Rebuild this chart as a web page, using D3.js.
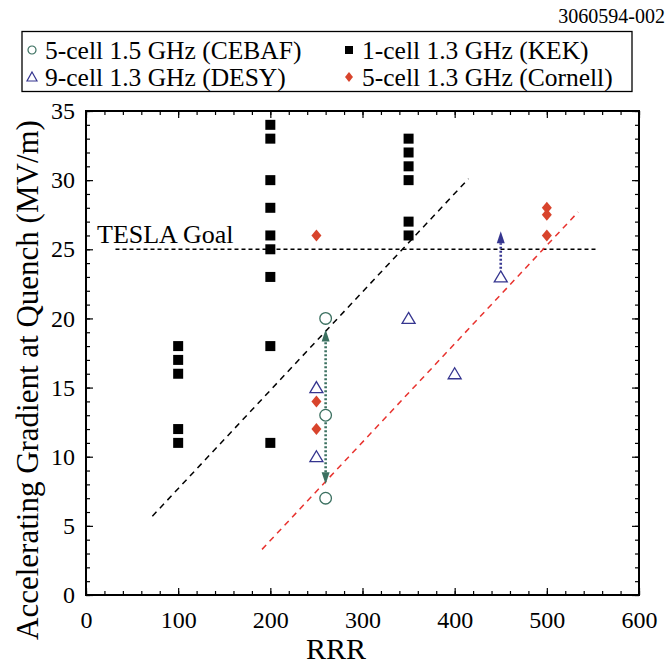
<!DOCTYPE html>
<html>
<head>
<meta charset="utf-8">
<script src="https://cdn.jsdelivr.net/npm/d3@7"></script>
<style>
  body { margin: 0; background: #fff; }
  svg text { font-family: 'Liberation Serif', 'Times New Roman', serif; }
</style>
</head>
<body>
<script>
// data (RRR, MV/m)
var cebaf = [[260, 20], [260, 13], [260, 7]];
var kek = [[100, 18], [100, 17], [100, 16], [100, 12], [100, 11],
           [200, 34], [200, 33], [200, 30], [200, 28], [200, 26], [200, 25], [200, 23], [200, 18], [200, 11],
           [350, 33], [350, 32], [350, 31], [350, 30], [350, 27], [350, 26]];
var desy = [[250, 15], [250, 10], [350, 20], [400, 16], [450, 23]];
var cornell = [[250, 26], [250, 14], [250, 12], [500, 28], [500, 27.5], [500, 26]];

var fitKek = [[72, 5.7], [415, 30.1]];
var fitCornell = [[191, 3.3], [534, 27.7]];
var teslaGoal = [[32, 25], [554, 25]];

// arrows: x, from, to
var arrows = [
  {x: 260, from: 13.5, to: 19.2, color: "#3b7060"},
  {x: 260, from: 12.5, to: 8.0, color: "#3b7060"},
  {x: 450, from: 23.6, to: 26.3, color: "#35358f"}
];

var xTicks = [0, 100, 200, 300, 400, 500, 600];
var yTicks = [0, 5, 10, 15, 20, 25, 30, 35];

var serif = "'Liberation Serif', 'Times New Roman', serif";

var W = 669, H = 666;
var svg = d3.select("body").append("svg")
  .attr("width", W)
  .attr("height", H);

var x = d3.scaleLinear().domain([0, 600]).range([86, 639]);
var y = d3.scaleLinear().domain([0, 35]).range([595, 111]);

var minorX = d3.range(0, 601, 20);
var minorY = d3.range(0, 36, 1);

function styleAxis(g) {
  g.attr("font-family", serif);
  g.select(".domain").remove();
  g.selectAll("line").attr("stroke", "#000").attr("stroke-width", 1.2);
  g.selectAll("text").attr("font-size", 24).attr("fill", "#000").style("font-family", serif);
}

// minor ticks on all four sides
svg.append("g").attr("transform", "translate(0,595)")
  .call(d3.axisBottom(x).tickValues(minorX).tickSize(-4).tickFormat("")).call(styleAxis);
svg.append("g").attr("transform", "translate(0,111)")
  .call(d3.axisTop(x).tickValues(minorX).tickSize(-4).tickFormat("")).call(styleAxis);
svg.append("g").attr("transform", "translate(86,0)")
  .call(d3.axisLeft(y).tickValues(minorY).tickSize(-4).tickFormat("")).call(styleAxis);
svg.append("g").attr("transform", "translate(639,0)")
  .call(d3.axisRight(y).tickValues(minorY).tickSize(-4).tickFormat("")).call(styleAxis);

// major ticks
svg.append("g").attr("transform", "translate(0,595)")
  .call(d3.axisBottom(x).tickValues(xTicks).tickSize(-7).tickPadding(16)).call(styleAxis);
svg.append("g").attr("transform", "translate(0,111)")
  .call(d3.axisTop(x).tickValues(xTicks).tickSize(-7).tickFormat("")).call(styleAxis);
svg.append("g").attr("transform", "translate(86,0)")
  .call(d3.axisLeft(y).tickValues(yTicks).tickSize(-7).tickPadding(11)).call(styleAxis);
svg.append("g").attr("transform", "translate(639,0)")
  .call(d3.axisRight(y).tickValues(yTicks).tickSize(-7).tickFormat("")).call(styleAxis);

// frame
svg.append("rect")
  .attr("x", x(0)).attr("y", y(35))
  .attr("width", x(600) - x(0)).attr("height", y(0) - y(35))
  .attr("fill", "none").attr("stroke", "#000").attr("stroke-width", 2);

var line = d3.line().x(function (d) { return x(d[0]); }).y(function (d) { return y(d[1]); });

svg.append("path").datum(teslaGoal).attr("d", line)
  .attr("stroke", "#000").attr("stroke-width", 1.4).attr("stroke-dasharray", "4,3").attr("fill", "none");
svg.append("path").datum(fitKek).attr("d", line)
  .attr("stroke", "#000").attr("stroke-width", 1.5).attr("stroke-dasharray", "6,5").attr("fill", "none");
svg.append("path").datum(fitCornell).attr("d", line)
  .attr("stroke", "#e8322e").attr("stroke-width", 1.5).attr("stroke-dasharray", "6,5").attr("fill", "none");

svg.append("text").attr("x", 97).attr("y", 243).attr("font-size", 26).text("TESLA Goal");

// dotted arrows
arrows.forEach(function (a) {
  var y0 = y(a.from), y1 = y(a.to);
  var dir = y1 < y0 ? 1 : -1; // 1 = pointing up
  var headLen = 12, headW = 4;
  svg.append("line")
    .attr("x1", x(a.x)).attr("x2", x(a.x))
    .attr("y1", y0).attr("y2", y1 + dir * headLen)
    .attr("stroke", a.color).attr("stroke-width", 2.6).attr("stroke-dasharray", "2,2");
  svg.append("path")
    .attr("d", "M" + x(a.x) + "," + y1 +
      "L" + (x(a.x) - headW) + "," + (y1 + dir * headLen) +
      "L" + (x(a.x) + headW) + "," + (y1 + dir * headLen) + "Z")
    .attr("fill", a.color);
});

// markers
svg.selectAll(".kek").data(kek).enter().append("rect")
  .attr("x", function (d) { return x(d[0]) - 5; })
  .attr("y", function (d) { return y(d[1]) - 5; })
  .attr("width", 10).attr("height", 10).attr("fill", "#000");

svg.selectAll(".cornell").data(cornell).enter().append("path")
  .attr("transform", function (d) { return "translate(" + x(d[0]) + "," + y(d[1]) + ")"; })
  .attr("d", "M0,-6L5,0L0,6L-5,0Z").attr("fill", "#d8442c");

svg.selectAll(".cebaf").data(cebaf).enter().append("circle")
  .attr("cx", function (d) { return x(d[0]); })
  .attr("cy", function (d) { return y(d[1]); })
  .attr("r", 5.8).attr("fill", "#fff").attr("stroke", "#3b7060").attr("stroke-width", 1.3);

svg.selectAll(".desy").data(desy).enter().append("path")
  .attr("transform", function (d) { return "translate(" + x(d[0]) + "," + y(d[1]) + ")"; })
  .attr("d", "M0,-6L6.5,5L-6.5,5Z").attr("fill", "none").attr("stroke", "#35358f").attr("stroke-width", 1.3);

// axis titles
svg.append("text").attr("x", 336).attr("y", 659).attr("text-anchor", "middle")
  .attr("font-size", 30).text("RRR");
svg.append("text").attr("transform", "translate(38,380) rotate(-90)").attr("text-anchor", "middle")
  .attr("font-size", 31).text("Accelerating Gradient at Quench (MV/m)");

svg.append("text").attr("x", 665).attr("y", 23).attr("text-anchor", "end")
  .attr("font-size", 20).text("3060594-002");

// legend
var legend = svg.append("g");
legend.append("rect").attr("x", 22).attr("y", 31.5).attr("width", 610).attr("height", 60)
  .attr("fill", "#fff").attr("stroke", "#000").attr("stroke-width", 1.3);

var legendItems = [
  {label: "5-cell 1.5 GHz (CEBAF)", kind: "circle", lx: 32, ly: 50},
  {label: "1-cell 1.3 GHz (KEK)", kind: "square", lx: 349, ly: 50},
  {label: "9-cell 1.3 GHz (DESY)", kind: "triangle", lx: 32, ly: 77},
  {label: "5-cell 1.3 GHz (Cornell)", kind: "diamond", lx: 349, ly: 77}
];
legendItems.forEach(function (it) {
  var g = legend.append("g").attr("transform", "translate(" + it.lx + "," + it.ly + ")");
  if (it.kind === "circle") g.append("circle").attr("r", 4).attr("fill", "none").attr("stroke", "#3b7060").attr("stroke-width", 1.2);
  if (it.kind === "square") g.append("rect").attr("x", -4).attr("y", -4).attr("width", 8).attr("height", 8).attr("fill", "#000");
  if (it.kind === "triangle") g.append("path").attr("d", "M0,-5L5,4L-5,4Z").attr("fill", "none").attr("stroke", "#35358f").attr("stroke-width", 1.2);
  if (it.kind === "diamond") g.append("path").attr("d", "M0,-5L4,0L0,5L-4,0Z").attr("fill", "#d8442c");
  g.append("text").attr("x", 13).attr("y", 8.5).attr("font-size", 25.5)
    .style("font-family", serif).text(it.label);
});
</script>
</body>
</html>
